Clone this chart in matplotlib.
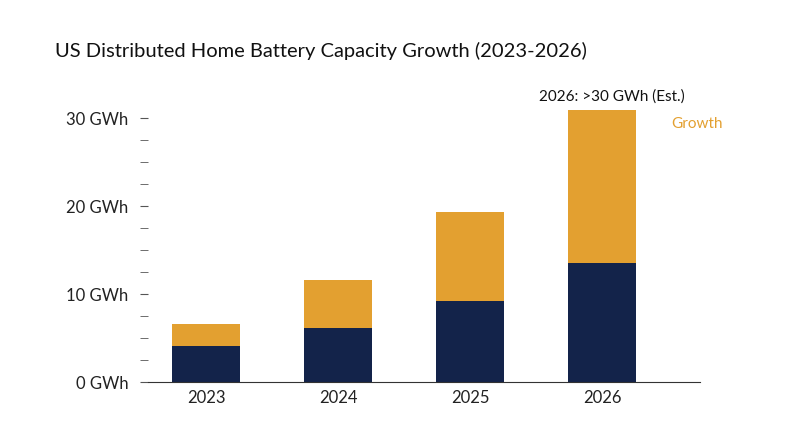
import matplotlib
matplotlib.use("Agg")
import matplotlib.pyplot as plt
import numpy as np

years = ["2023", "2024", "2025", "2026"]
base = [4.1, 6.1, 9.2, 13.5]
growth = [2.5, 5.5, 10.1, 17.4]
yticks = [0, 10, 20, 30]
ytick_labels = ["0 GWh", "10 GWh", "20 GWh", "30 GWh"]

plt.rcParams['font.family'] = ['Lato', 'DejaVu Sans']
fig = plt.figure(figsize=(8, 4.47), dpi=100)
ax = fig.add_axes([0.185, 0.1454, 0.69, 0.6297])
x = np.arange(len(years))
dark = "#13234a"; orange = "#e3a030"
ax.bar(x, base, width=0.515, color=dark)
ax.bar(x, growth, bottom=base, width=0.515, color=orange)
ax.set_xlim(-0.44, 3.74)
ax.set_ylim(0, 32)
ax.set_yticks(yticks, ytick_labels)
ax.set_yticks(np.arange(0, 32, 2.5), minor=True)
for s in ["left", "top", "right"]:
    ax.spines[s].set_visible(False)
ax.spines["bottom"].set_color("#333333")
ax.tick_params(axis="y", which="both", length=6, color="#555555", pad=8, labelsize=12, labelcolor="#222222")
ax.tick_params(axis="x", length=0, pad=6, labelsize=12, labelcolor="#222222")
ax.set_xticks(x, years)
fig.text(0.069, 0.887, "US Distributed Home Battery Capacity Growth (2023-2026)", fontsize=14.5, color="#111111", va="center")
total = base[3] + growth[3]
ax.annotate("2026: >30 GWh (Est.)", (3, total), xytext=(3.07, total + 1.6), ha="center", va="center", fontsize=11, color="#111111")
ax.annotate("Growth", (3, total), xytext=(3.72, total - 1.6), ha="center", va="center", fontsize=11, color=orange)
fig.savefig("out.png", dpi=100)
